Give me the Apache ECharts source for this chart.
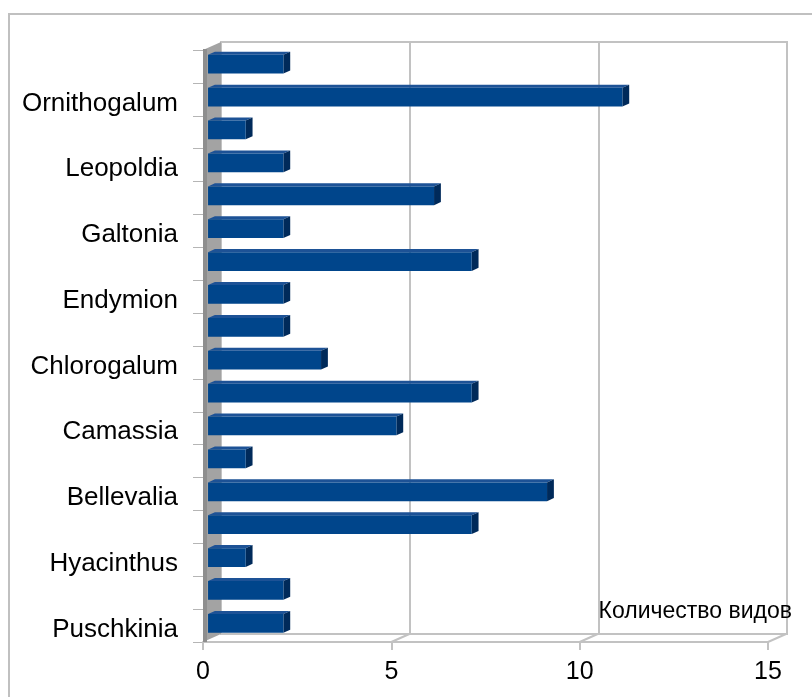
<!DOCTYPE html>
<html>
<head>
<meta charset="utf-8">
<script src="https://cdn.jsdelivr.net/npm/echarts@6/dist/echarts.min.js"></script>
<style>
  html, body { margin: 0; padding: 0; background: #ffffff; }
  #chart { width: 812px; height: 697px; }
</style>
</head>
<body>
<div id="chart"></div>
<script>
// Genera, bottom to top; only every other one carries a visible label
const categories = ['Puschkinia', '', 'Hyacinthus', '', 'Bellevalia', '', 'Camassia', '',
  'Chlorogalum', '', 'Endymion', '', 'Galtonia', '', 'Leopoldia', '', 'Ornithogalum', ''];
// Number of species per genus
const speciesCount = [2, 2, 1, 7, 9, 1, 5, 7, 3, 2, 2, 7, 2, 6, 2, 1, 11, 2];
// Value axis ticks
const xTicks = [0, 5, 10, 15];
const axisTitle = 'Количество видов';

const FONT = '"Liberation Sans", Arial, sans-serif';
// Depth of the pseudo-3D box (front edge -> back wall)
const DEPTH = [18, -8];
const BAR_FRONT = 0.28;   // bar front face, as fraction of depth
const BAR_BACK = 0.66;    // bar back face
const BAR_HEIGHT = 0.57;  // bar thickness relative to the category band
const GRID_COLOR = '#c2c2c2';

const chart = echarts.init(document.getElementById('chart'), null, { renderer: 'canvas' });

const barData = speciesCount.map((v, i) => [v, i]);

function renderBar(params, api) {
  const v = api.value(0);
  const idx = api.value(1);
  const p0 = api.coord([0, idx]);
  const p1 = api.coord([v, idx]);
  const band = api.size([0, 1])[1];
  const h = band * BAR_HEIGHT;
  const fx = DEPTH[0] * BAR_FRONT, fy = DEPTH[1] * BAR_FRONT;
  const bx = DEPTH[0] * (BAR_BACK - BAR_FRONT), by = DEPTH[1] * (BAR_BACK - BAR_FRONT);
  const x0 = p0[0] + fx, x1 = p1[0] + fx;
  const yt = p0[1] + fy - h / 2, yb = p0[1] + fy + h / 2;
  return {
    type: 'group',
    children: [
      { type: 'polygon', shape: { points: [[x0, yt], [x1, yt], [x1 + bx, yt + by], [x0 + bx, yt + by]] },
        style: { fill: '#1d5296' } },
      { type: 'polygon', shape: { points: [[x1, yt], [x1 + bx, yt + by], [x1 + bx, yb + by], [x1, yb]] },
        style: { fill: '#002a5a' } },
      { type: 'rect', shape: { x: x0, y: yt, width: x1 - x0, height: h },
        style: { fill: '#00458b' } }
    ]
  };
}

// Side wall and floor edges of the box, derived from the front grid
function renderBox(params, api) {
  const cs = params.coordSys;
  const left = cs.x, top = cs.y, bottom = cs.y + cs.height;
  const children = [
    { type: 'polygon',
      shape: { points: [[left, top], [left + DEPTH[0], top + DEPTH[1]],
                        [left + DEPTH[0], bottom + DEPTH[1]], [left, bottom]] },
      style: { fill: '#a3a3a3' } },
    { type: 'rect', shape: { x: left, y: top - 1, width: 4, height: cs.height + 1 },
      style: { fill: '#8e8e8e' } }
  ];
  xTicks.slice(1).forEach(t => {
    const x = api.coord([t, 0])[0];
    children.push({ type: 'line',
      shape: { x1: x, y1: bottom, x2: x + DEPTH[0], y2: bottom + DEPTH[1] },
      style: { stroke: GRID_COLOR, lineWidth: 2 } });
  });
  return { type: 'group', children };
}

chart.setOption({
  animation: false,
  backgroundColor: '#ffffff',
  grid: [
    { // back wall
      left: 221, top: 42, width: 566, height: 592,
      show: true, borderColor: GRID_COLOR, borderWidth: 2, backgroundColor: 'transparent',
      containLabel: false, outerBoundsMode: 'none'
    },
    { // front plane (axes, labels, bars)
      left: 203, top: 50, width: 565, height: 592,
      containLabel: false, outerBoundsMode: 'none'
    }
  ],
  xAxis: [
    { gridIndex: 0, type: 'value', min: 0, max: 15, interval: 5,
      axisLine: { show: false }, axisTick: { show: false }, axisLabel: { show: false },
      splitLine: { show: true, lineStyle: { color: GRID_COLOR, width: 2 } } },
    { gridIndex: 1, type: 'value', min: 0, max: 15, interval: 5,
      axisLine: { show: true, lineStyle: { color: GRID_COLOR, width: 2 } },
      axisTick: { show: true, length: 8, lineStyle: { color: GRID_COLOR, width: 2 } },
      axisLabel: { show: true, margin: 18, color: '#000', fontSize: 25, fontFamily: FONT },
      splitLine: { show: false } }
  ],
  yAxis: [
    { gridIndex: 0, type: 'category', data: categories, show: false },
    { gridIndex: 1, type: 'category', data: categories,
      axisLine: { show: true, lineStyle: { color: '#9a9a9a', width: 1 } },
      axisTick: { show: true, interval: 0, length: 10, lineStyle: { color: '#b5b5b5', width: 1 } },
      axisLabel: { show: true, interval: 0, margin: 25, color: '#000', fontSize: 26, fontFamily: FONT,
                   verticalAlign: 'top', lineHeight: 8 },
      splitLine: { show: false } }
  ],
  graphic: [
    { type: 'rect', z: -10, shape: { x: 9, y: 14, width: 900, height: 800 },
      style: { fill: 'none', stroke: '#c0c0c0', lineWidth: 2 } },
    { type: 'text', z: 10, x: 792, y: 612,
      style: { text: axisTitle, fill: '#000', font: '23px ' + FONT, align: 'right', verticalAlign: 'middle' } }
  ],
  series: [
    { type: 'custom', xAxisIndex: 1, yAxisIndex: 1, data: [[0, 0]], z: 1,
      renderItem: renderBox, silent: true },
    { type: 'custom', xAxisIndex: 1, yAxisIndex: 1, data: barData, z: 3,
      encode: { x: 0, y: 1 }, renderItem: renderBar }
  ]
});
</script>
</body>
</html>
